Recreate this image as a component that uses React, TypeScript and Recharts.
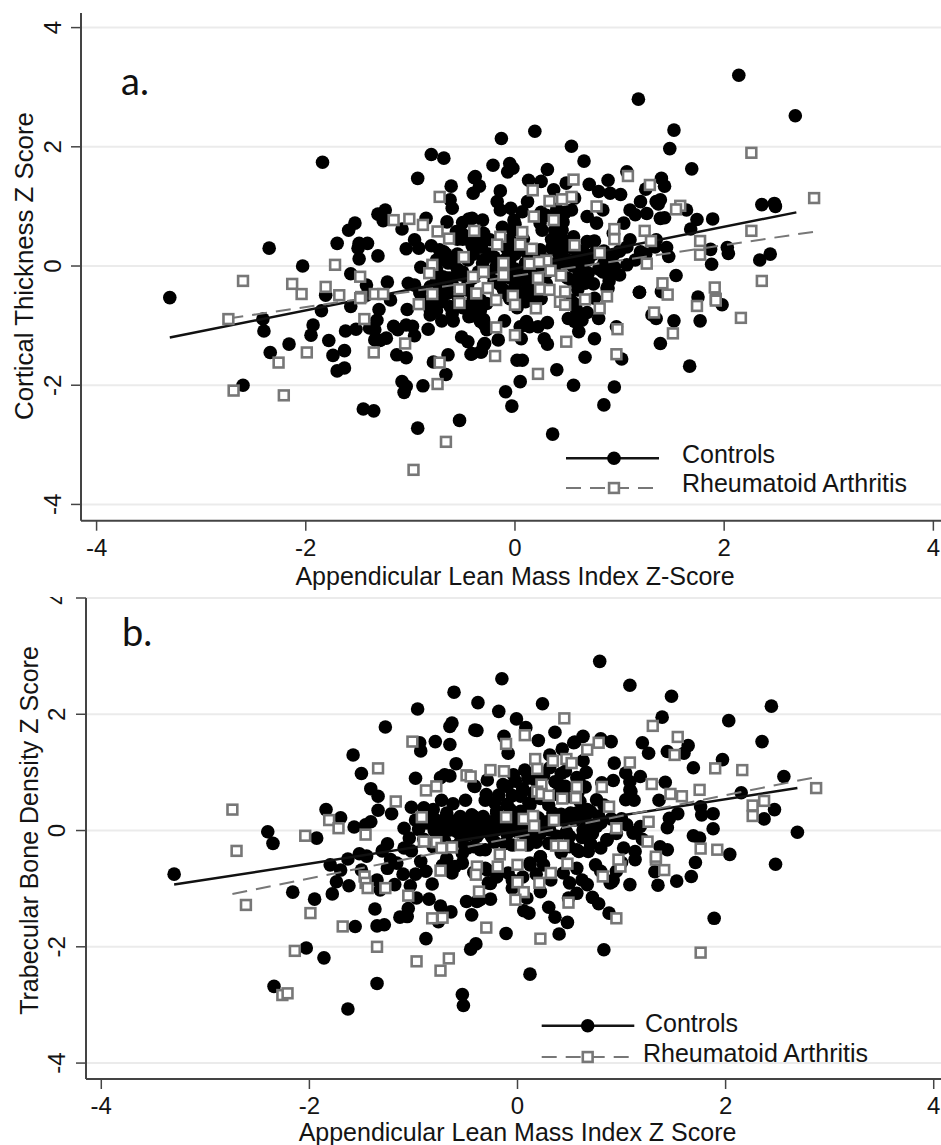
import React from "react";
import { ScatterChart, Scatter, XAxis, YAxis, CartesianGrid, Legend } from "recharts";

type Pair = [number, number];

const axisTicks = [-4, -2, 0, 2, 4];
const seriesNames = ["Controls", "Rheumatoid Arthritis"];
const titleA = { x: "Appendicular Lean Mass Index Z-Score", y: "Cortical Thickness Z Score", tag: "a." };
const titleB = { x: "Appendicular Lean Mass Index Z Score", y: "Trabecular Bone Density Z Score", tag: "b." };

const controlsA: Pair[] = [
[-1.84,1.74],[-.80,1.87],[-.68,1.81],[-.93,1.47],[-.39,1.48],[-.61,1.34],[-.40,1.22],[-.62,1.11],[-.60,.97],[-1.24,.94],[-1.31,.87],[-1.26,.76],[-1.53,.72],[-1.59,.60],[-1.08,.62],[-.85,.80],[-.65,.74],[-.50,.73],[-.44,.79],[-.51,.55],[-.55,.45],[-1.70,.38],[-1.49,.38],[-1.41,.38],[-1.50,.30],[-.96,.44],[-1.04,.29],[-.92,.30],[-.80,.34],[-.72,.27],[-1.49,.12],[-1.31,.17],[-2.35,.30],[-2.03,0],[-.66,.2],[-.64,.05],[-.90,-.02],[-1.57,-.13],[-1.42,-.32],[-1.22,-.27],[-1.02,-.29],[-.96,-.32],[-.69,-.18],[-.62,-.2],[-.51,-.15],[-.81,-.35],[-1.81,-.49],[-.66,-.42],[-3.30,-.53],
[-1.19,-.57],[-2.41,-.89],[-2.40,-1.09],[-1.85,-.75],[-1.93,-.99],[-1.95,-1.16],[-2.16,-1.31],[-1.78,-1.25],[-2.34,-1.45],[-1.63,-1.42],[-1.74,-1.50],[-1.63,-1.71],[-1.70,-1.76],[-2.60,-2.00],[-1.57,-.68],[-1.62,-1.09],[-1.52,-1.06],[-1.30,-.73],[-1.32,-.91],[-1.34,-1.07],[-1.39,-1.04],[-1.34,-1.24],[-1.23,-1.21],[-1.29,-1.25],[-1.16,-1.01],[-1.12,-1.07],[-1.04,-.99],[-.98,-1.01],[-.96,-1.17],[-.83,-1.06],[-1.03,-.73],[-1.13,-1.49],[-1.04,-1.54],[-.78,-1.61],[-.64,-1.49],[-.66,-1.82],[-1.08,-1.94],[-1.04,-2.02],[-1.06,-2.12],[-.88,-2.01],[-1.45,-2.40],[-1.35,-2.43],[-.93,-2.72],[-.53,-2.59],
[-.81,-.82],[-.70,-.92],[-.59,-.92],[-.44,-.85],[-.51,-1.19],[-.45,-1.27],[-.42,-1.48],[-.33,-1.44],[-.33,-.93],
[.36,-2.82],[.85,-2.33],[.95,-2.03],[.56,-2.0],[.40,-1.74],[.05,-1.94],[-.09,-2.11],[-.03,-2.35],[.02,-1.58],[.07,-1.58],[.67,-1.53],[1.02,-1.56],[1.39,-1.30],[1.67,-1.68],[.76,-1.22],[.31,-1.31],[.28,-1.22],[.06,-1.22],[-.16,-1.24],[-.29,-1.30],[-.32,-1.44],[-.41,-1.47],[.31,-.95],[.22,-1.02],[.14,-1.02],[.11,-.93],[.05,-1.02],[-.10,-.92],[-.29,-.99],[-.30,-.90],[-.42,-.84],[-.37,-.71],[.69,-.78],[.80,-.88],[.61,-1.10],[.51,-.88],[.57,-.93],[.64,-.91],[.56,-.62],[.76,-.54],[.89,-.37],[1.19,-.44],[1.40,-.43],[1.75,-.52],[1.98,-.65],[1.31,-.82],[1.35,-.88],[1.52,-.92],[1.77,-.92],[.97,-1.02],
[2.14,3.20],[2.68,2.52],[1.18,2.80],[1.52,2.28],[1.48,1.97],[1.69,1.63],[-.13,2.14],[.19,2.26],[.54,2.01],[.66,1.76],[-.21,1.69],[-.05,1.72],[-.02,1.64],[-.07,1.58],[.31,1.62],[-.38,1.50],[-.34,1.34],[.13,1.44],[.25,1.42],[.37,1.28],[.49,1.39],[-.14,1.26],[-.17,1.08],[-.14,.94],[-.04,.97],[.12,1.08],[.07,.91],[-.01,.77],[-.31,.77],[-.41,.80],[.71,1.37],[.89,1.44],[.80,1.25],[.91,1.22],[1.01,1.20],[.57,1.14],[.54,.94],[.84,.94],[.69,.83],[.78,.72],[.46,.74],[.24,.72],[1.10,.94],[1.20,1.08],[1.26,.88],[1.15,.86],[1.07,1.58],[1.40,1.47],[1.43,1.34],[1.25,1.29],[1.39,1.11],[1.37,1.04],[1.43,.81],[1.64,.94],[1.74,.78],[1.89,.79],[1.68,.62],[2.36,1.03],[2.48,1.05],[2.49,1.0],[2.03,.31],[2.04,.21],[1.87,.28],[1.88,.03],[2.44,.20],[2.34,.10],[1.54,-.16],[1.47,.16],[1.45,.31],[1.35,.44],[1.20,.24],[1.07,.02],[.94,.18],[1.04,.72],[1.10,.44],[.90,-.15],[.84,-.10],[.70,-.12],[.67,-.29],[.61,-.15],[.88,-.37],[1.19,-.44],
[.41,.55],[.56,.49],[.69,.41],[.76,.42],[.37,.38],[.46,.35],[.43,.16],[.59,.27],[.48,.05],[.24,.27],[.10,.05],[-.18,-.01],[-.05,.44],[-.06,.21],[-.24,.44],[-.32,.32],[-.40,.32],[-.31,.05],[.26,.60],[.10,-.23],[.12,-.37],[-.11,-.40],
[-.65,-.2],[-.27,-.63],[-.33,-.74],[.11,-.51],[-.08,-.46],[.05,-.23],[.30,-.12],[.62,-.23],[.88,-.12],[.53,-.57],[.59,-.74],[-.30,-.96],[-.27,-1.07],[-.30,-1.33],
[-.68,.24],[-.56,.58],[-.41,.35],[-.33,.32],[.75,.41],[-.08,.30],[-.05,.10],[.11,.05],[1.35,1.08],[1.39,.80],[1.07,.32],[1.34,.32],[.94,.55],
[-.78,-.57],[-.65,-.46],[-.81,-.74],[-.46,-.68],[-.33,-.57],[-.46,-.40],[-.62,-.68],[-.91,-.45],[-1.42,-.49],
[-.25,-.1],[-.2,-.25],[-.15,-.3],[-.1,-.1],[0,-.05],[.05,-.1],[.15,-.1],[.2,-.3],[.3,-.3],[.35,-.05],[.42,-.02],[.5,-.2],[.55,0],[.4,.25],[.5,.1],[.3,.1],[.2,.15],[.35,.45],[.45,.6],[.5,.4],[.38,.6],[.45,.2],[-.1,.1],[-.2,.15],[-.3,.1],[-.4,-.2],[-.35,-.1],[-.45,.1],[-.5,-.1],[-.55,.2],[-.6,.05],
[-.75,-.25],[-.7,-.4],[-.6,-.3],[-.55,-.5],[-.5,-.7],[-.7,-.6],[-.75,-.75],[-.6,-.8],[-.4,-.55],[-.45,-.3],[-.55,-.05],[-.75,-.05],[-.35,-.8],[-.85,-.6],
[-.05,-.2],[0,-.35],[.05,-.45],[.15,-.25],[.2,-.45],[.1,-.6],[.2,-.6],[.02,-.7],[.15,0],[.25,-.05],[-.05,-.55],[.25,-.55],
[.55,-.25],[.65,-.05],[.7,.1],[.8,-.05],[.85,.05],[.95,-.02],[.9,-.25],[.75,-.3],[.6,-.4],[.75,.2],[.65,.25],[.85,.25],[1.0,.25],[1.15,.1],[1.25,.2],[1.0,-.15],
[.4,.4],[.45,.45],[.55,.3],[.6,.15],[.65,.05],[.35,.3],[.4,.05],[-.5,.45],[-.45,.5],[-.4,.2],[-.35,.45],[-.25,.2],[-.3,.55],
[-.02,.6],[.02,.35],[0,.2],[.08,.45],[.1,.25],[-.12,.65],[0,.7],[.3,.85],[.4,.95],[.48,.9],[.25,.9],[-.72,.12],[-.62,.12],[-.75,.1]
];

const patientsA: Pair[] = [
[-2.60,-.25],[-2.13,-.30],[-2.04,-.47],[-1.81,-.35],[-1.72,.02],[-1.68,-.49],[-1.48,-.18],[-1.47,-.52],[-1.34,-.47],[-1.26,-.47],[-1.16,.77],[-1.01,.79],[-.88,.69],[-.74,.58],[-.72,1.16],[-.63,.46],[-.39,.59],[-.49,.15],[-.79,.02],[-.82,-.12],[-.40,-.18],[-.79,-.47],[-.37,-.46],[-.53,-.39],
[-2.74,-.89],[-1.44,-.89],[-.53,-.62],[-.92,-.64],[-1.05,-1.30],[-1.99,-1.45],[-1.35,-1.45],[-2.26,-1.62],[-.72,-1.62],[-.74,-1.98],[-2.69,-2.09],[-2.21,-2.17],[-.66,-2.95],[-.97,-3.42],
[2.26,1.90],[2.86,1.14],[2.26,.59],[2.36,-.25],[1.77,.42],[1.77,.19],[1.58,1.01],[1.54,.95],[1.29,1.36],[1.08,1.51],[1.24,.59],[1.30,.42],[.95,.62],[.95,.45],[.81,.22],[1.26,.04],[1.41,-.29],[1.46,-.48],[1.91,-.36],[1.92,-.55],[.78,1.0],[.56,1.45],[.54,1.16],[.45,1.12],[.33,1.09],[.17,1.27],[.18,.83],[.37,.77],[.07,.57],[.05,.36],[-.14,.49],[-.17,.36],[.16,.29],[.57,.35],[.30,.09],[.14,.04],[.23,.07],[-.11,.05],[-.11,-.15],[-.30,-.10],[.22,-.20],[.34,-.08],[.44,-.16],[-.26,-.37],[-.18,-.57],[-.02,-.50],[.24,-.39],[.33,-.40],[.48,-.43],[.67,-.56],[.88,-.51],
[0,-.65],[.20,-.71],[.43,-.60],[.48,-.65],[.81,-.71],[-.18,-1.03],[0,-1.16],[.49,-1.27],[-.19,-1.51],[.22,-1.81],[.97,-1.48],[.98,-1.06],[1.33,-.78],[1.51,-1.13],[1.74,-.67],[1.92,-.58],[2.16,-.87],[-1.48,-.54]
];

const controlsB: Pair[] = [
[-.61,2.38],[-.38,2.20],[-.96,2.09],[-.63,1.85],[-.65,1.79],[-1.27,1.78],[-.41,1.73],[-.94,1.51],[-.93,1.37],[-.79,1.53],[-.65,1.48],[-1.58,1.30],[-.59,1.15],[-1.50,.98],[-.98,.90],[-.70,.96],[-.65,.94],[-.42,.77],[-1.41,.72],[-1.34,.59],[-.73,.52],[-.50,.52],[-.62,.46],[-1.02,.40],[-.90,.39],[-.81,.36],[-1.84,.36],[-1.34,.35],[-1.21,.29],[-1.70,.22],[-1.41,.15],[-1.46,.10],[-1.57,.06],[-1.09,.04],[-1.04,-.13],[-.42,.24],[-.65,.18],[-.74,.13],[-.65,.01],[-.84,.13],[-.49,.18],[-2.40,-.02],[-2.35,-.22],[-1.93,-.13],[-1.63,-.49],[-1.52,-.40],[-1.45,-.44],[-1.30,-.35],[-1.25,-.23],[-1.09,-.30],[-1.02,-.35],[-.93,-.53],[-1.22,-.50],[-1.16,-.56],[-.68,-.48],[-.53,-.56],[-.42,-.28],[-.81,-.28],[-.53,-.39],[-1.80,-.59],
[-3.30,-.75],[-1.70,-.68],[-1.74,-.88],[-1.62,-.95],[-1.78,-1.09],[-2.16,-1.06],[-1.95,-1.18],[-1.50,-.68],[-1.35,-.85],[-1.32,-1.02],[-1.18,-.93],[-.98,-.75],[-1.03,-.95],[-.82,-.92],[-.63,-.73],[-1.37,-1.35],[-1.56,-1.65],[-1.35,-1.64],[-1.28,-1.62],[-1.13,-1.49],[-1.06,-1.48],[-1.05,-1.34],[-.97,-1.16],[-.85,-1.18],[-.74,-1.30],[-.64,-1.40],[-.76,-1.57],[-.49,-1.22],[-.44,-1.45],[-.88,-1.86],[-.45,-2.04],[-.40,-1.95],[-2.03,-2.02],[-1.86,-2.19],[-1.35,-2.63],[-2.34,-2.68],[-1.63,-3.07],[-.53,-2.82],[-.52,-3.01],
[.12,-2.47],[.83,-2.05],[1.89,-1.51],[-.11,-1.77],[.40,-1.78],[.48,-1.58],[.36,-1.49],[.30,-1.32],[.06,-1.38],[.11,-1.42],[.88,-1.42],[.78,-1.26],[.72,-1.15],[.57,-1.08],[.49,-1.16],[.67,-.93],[1.08,-.93],[1.35,-.94],[1.53,-.87],[1.67,-.79],[1.32,-.71],[2.48,-.58],[1.71,-.55],[.75,-.59],[.57,-.65],[.92,-.85],[.89,-.90],[.22,-1.05],[.09,-1.16],[-.05,-.99],[-.26,-1.18],[-.26,-.91],[-.36,-1.19],[-.31,-.65],[-.09,-.73],[.12,-.59],[.25,-.59],[.44,-.73],
[-.39,-1.22],[-.36,-.33],[-.29,-.68],[-.28,-.90],[.12,-.56],[.22,-.45],[.59,-.36],[.68,-.36],[.86,-.16],[1.02,-.30],[.91,-.88],[1.11,-.04],[1.13,-.50],
[.79,2.91],[1.08,2.50],[1.48,2.31],[-.15,2.61],[-.18,2.05],[.24,2.18],[-.01,1.92],[.08,1.77],[2.44,2.14],[2.03,1.89],[1.39,1.95],[2.35,1.53],[.36,1.69],[.20,1.55],[-.13,1.62],[-.09,1.33],[.90,1.53],[.80,1.58],[.63,1.62],[.55,1.52],[.43,1.40],[.31,1.30],[1.20,1.51],[1.26,1.33],[1.64,1.46],[1.60,1.33],[1.44,1.36],[.93,1.16],[.63,1.20],[.66,1.0],[.07,1.04],[.31,1.08],[.46,1.02],[1.69,1.08],[1.97,1.22],[2.56,.93],[1.42,.83],[1.18,.93],[1.04,.99],[.92,.86],[1.08,.84],[.81,.82],[.59,.87],[.36,.84],[.46,.76],[-.04,.96],[-.29,.87],[-.41,.76],[-.10,.76],[-.18,.61],[-.31,.52],[.03,.59],[.11,.47],[.30,.44],[.60,.50],[.76,.53],[.83,.44],[1.09,.67],[1.04,.53],[1.12,.52],[1.36,.52],[2.15,.65],[1.76,.41],[1.77,.27],[1.88,.29],[1.54,.29],[1.46,.21],[1.44,.05],[1.88,.03],[1.69,-.09],[1.75,-.13],[2.04,-.41],[2.69,-.03],[2.47,.36],[2.37,.20],
[1.18,.07],[1.05,.10],[1.12,-.04],[.86,-.16],[.76,.07],[.63,.01],[.70,.33],[.57,.30],[.44,.18],[.31,.01],[-.07,.36],[-.20,.33],[-.33,.22],[-.14,.05],[.03,.07],[.20,.07],[-.39,-.10],[-.31,-.33],[-.12,-.22],[.12,-.10],[.30,-.22],[.57,-.33],[1.13,-.36],[1.37,-.28],[1.44,-.33],[.22,-.45],
[-.14,.79],[.03,.61],[.12,.44],[.38,.82],[.57,.91],[.67,.36],[.51,.30],[.34,.30],[.03,.33],[-.20,.30],[-.33,.24],[-.44,.27],[-.55,.24],[-.68,.30],[-.98,.18],[-.87,.13],[-.68,.10],[-.53,.04],[-.42,.07],[-.29,.04],[-.20,.01],[-.07,.05],[.12,.01],[.28,.05],[.47,-.02],[.70,.05],[.80,.13],[1.08,.70],[-.74,.91],[-.39,1.72],[.54,1.51],
[-.9,.25],[-.8,.2],[-.7,.2],[-.6,.15],[-.45,.15],[-.35,.15],[-.25,.15],[-.15,.15],[-.05,.2],[.08,.2],[.2,.22],[.28,.15],[.42,.28],[.55,.18],[.65,.2],[.78,.25],[.9,.2],[1.0,.2],
[-.95,.02],[-.8,0],[-.72,-.05],[-.58,-.02],[-.48,-.08],[-.35,-.03],[-.25,-.1],[-.1,-.06],[0,-.02],[.08,-.12],[.22,-.05],[.38,-.1],[.5,-.1],[.62,-.12],[.72,-.05],[.95,-.05],
[-.9,-.15],[-.7,-.18],[-.55,-.2],[-.48,-.3],[-.22,-.2],[-.05,-.25],[.1,-.25],[.18,-.2],[.42,-.38],[.5,-.28],[.7,-.22],[.8,-.3],[1.2,-.15],
[-.3,.62],[-.22,.48],[-.1,.45],[-.05,.6],[.05,.72],[.15,.65],[.22,.55],[.38,.62],[.48,.58],[.58,.65],[.65,.75],[.18,.85],[.1,.9],[-.02,.85],[.25,.95],[.42,.98],
[-.6,-.62],[-.42,-.72],[-.2,-.8],[-.05,-.85],[.05,-.8],[.18,-.75],[.32,-.85],[.5,-.9],[.62,-.85],[.8,-.7],[.95,-.7],[1.0,-.55],[-.72,-.6],[-.88,-.7],[-1.1,-.75],[-1.25,-.65]
];

const patientsB: Pair[] = [
[-2.74,.36],[-2.70,-.35],[-2.04,-.09],[-1.81,.18],[-1.72,.04],[-1.46,-.07],[-1.34,1.07],[-1.17,.50],[-1.01,1.53],[-.92,.23],[-.88,.69],[-.78,.76],[-.49,.95],[-.90,-.19],[-.78,-.20],[-.73,-.30],[-.63,-.29],[-.74,-.69],[-.39,-.62],
[-2.61,-1.28],[-1.99,-1.42],[-1.68,-1.65],[-2.14,-2.07],[-2.26,-2.83],[-2.21,-2.80],[-1.47,-.79],[-1.46,-.90],[-1.44,-.99],[-1.27,-.99],[-1.05,-1.12],[-.82,-1.51],[-.72,-1.50],[-1.35,-2.0],[-.97,-2.25],[-.74,-2.41],[-.66,-2.20],[-.40,-.76],[-.37,-1.05],
[-.19,-.62],[0,-.59],[.48,-.57],[.32,-.73],[.21,-.90],[0,-.89],[.06,-1.06],[-.02,-1.19],[.49,-1.24],[.82,-.79],[.99,-.62],[1.41,-.68],[1.33,-.50],[-.30,-1.67],[.22,-1.86],[.95,-1.51],[1.76,-2.10],
[.45,1.93],[1.30,1.80],[1.54,1.61],[.07,1.64],[-.11,1.49],[1.51,1.30],[.78,1.51],[.67,1.39],[1.08,1.17],[.17,1.23],[.34,1.20],[.47,1.23],[.52,1.16],[.19,1.06],[-.26,1.04],[-.13,1.02],[1.90,1.07],[2.16,1.04],[-.45,.93],[1.29,.80],[.81,.75],[.57,.75],[.23,.79],[.19,.67],[.23,.63],[.30,.60],[.43,.55],[.56,.56],[1.47,.63],[1.58,.59],[1.75,.70],[.88,.41],[2.26,.43],[2.37,.51],[2.26,.25],[2.87,.73],[-.11,.23],[.06,.20],[.15,.25],[.16,.08],[.35,.18],[1.26,.15],[.95,.04],[.03,-.25],[.37,-.26],[.44,-.26],[1.25,-.19],[1.76,-.31],[1.92,-.33],[1.33,-.45],[-.17,-.41],[.97,-.50]
];

const fitControlsA: Pair[] = [[-3.30,-1.20],[2.69,.90]];
const fitPatientsA: Pair[] = [[-2.74,-.88],[2.86,.575]];
const fitControlsB: Pair[] = [[-3.30,-.93],[2.69,.73]];
const fitPatientsB: Pair[] = [[-2.74,-1.09],[2.87,.92]];

const toPoints = (pairs: Pair[]) => pairs.map(([x, y]) => ({ x, y }));

const SANS = "'Liberation Sans', Arial, sans-serif";
const INK = "#141414";
const AXIS = "#444444";
const GREY = "#777777";

const Dot = (p: any) => <circle cx={p.cx} cy={p.cy} r={6.8} fill="#000" />;
const Box = (p: any) => (
  <rect x={p.cx - 4.9} y={p.cy - 4.9} width={9.8} height={9.8} fill="#fff" stroke={GREY} strokeWidth={2.6} />
);
const NoMark = () => null;

const Title = ({ px, py, vertical, text, fs }: any) => (
  <text
    x={px}
    y={py}
    transform={vertical ? `rotate(-90 ${px} ${py})` : undefined}
    textAnchor="middle"
    dominantBaseline="central"
    fontFamily={SANS}
    fontSize={fs}
    fill={INK}
  >
    {text}
  </text>
);

const makeXTick = (ty: number) => (p: any) => (
  <text x={p.x} y={ty} textAnchor="middle" dominantBaseline="central" fontFamily={SANS} fontSize={24} fill={INK}>
    {p.payload.value}
  </text>
);
const makeYTick = (tx: number) => (p: any) => (
  <text
    x={tx}
    y={p.y}
    transform={`rotate(-90 ${tx} ${p.y})`}
    textAnchor="middle"
    dominantBaseline="central"
    fontFamily={SANS}
    fontSize={24}
    fill={INK}
  >
    {p.payload.value}
  </text>
);

const makeLegend = (cfg: any) => () => (
  <svg width={cfg.w} height={cfg.h} style={{ display: "block" }}>
    <line x1={cfg.lx1} x2={cfg.lx2} y1={cfg.y1} y2={cfg.y1} stroke={INK} strokeWidth={2.5} />
    <circle cx={cfg.mx} cy={cfg.y1} r={6.8} fill="#000" />
    <line x1={cfg.lx1} x2={cfg.lx2} y1={cfg.y2} y2={cfg.y2} stroke={GREY} strokeWidth={2} strokeDasharray="15 9" />
    <rect x={cfg.mx - 4.9} y={cfg.y2 - 4.9} width={9.8} height={9.8} fill="#fff" stroke={GREY} strokeWidth={2.6} />
    <text x={cfg.t1x} y={cfg.t1y} dominantBaseline="central" fontFamily={SANS} fontSize={cfg.fs} fill={INK}>
      {seriesNames[0]}
    </text>
    <text x={cfg.t2x} y={cfg.t2y} dominantBaseline="central" fontFamily={SANS} fontSize={cfg.fs} fill={INK}>
      {seriesNames[1]}
    </text>
  </svg>
);

function Panel(props: any) {
  const { w, h, m, xd, yd, controls, patients, fitC, fitP, xTickY, yTickX, xt, yt, xTitle, yTitle, legend } = props;
  return (
    <ScatterChart width={w} height={h} margin={{ top: m.top, right: 0, bottom: 0, left: 0 }}>
      <CartesianGrid horizontal vertical={false} stroke="#ebebeb" strokeWidth={2} horizontalValues={axisTicks} />
      <XAxis
        type="number"
        dataKey="x"
        domain={xd}
        ticks={axisTicks}
        interval={0}
        allowDataOverflow
        height={m.bottom}
        tickSize={10}
        axisLine={{ stroke: AXIS, strokeWidth: 2 }}
        tickLine={{ stroke: AXIS, strokeWidth: 1.5 }}
        tick={makeXTick(xTickY)}
        label={<Title px={xt.x} py={xt.y} fs={xt.fs} text={xTitle} />}
      />
      <YAxis
        type="number"
        dataKey="y"
        domain={yd}
        ticks={axisTicks}
        interval={0}
        allowDataOverflow
        width={m.left}
        tickSize={10}
        axisLine={{ stroke: AXIS, strokeWidth: 2 }}
        tickLine={{ stroke: AXIS, strokeWidth: 1.5 }}
        tick={makeYTick(yTickX)}
        label={<Title px={yt.x} py={yt.y} fs={yt.fs} vertical text={yTitle} />}
      />
      <Legend
        layout="vertical"
        align="center"
        verticalAlign="middle"
        content={makeLegend(legend)}
        wrapperStyle={{ left: legend.left, top: legend.top, width: legend.w, height: legend.h, right: "auto", bottom: "auto" }}
      />
      <Scatter name={seriesNames[0]} data={toPoints(controls)} shape={Dot} isAnimationActive={false} />
      <Scatter
        data={toPoints(fitC)}
        shape={NoMark}
        line={{ stroke: "#111", strokeWidth: 2.5 }}
        legendType="none"
        isAnimationActive={false}
      />
      <Scatter
        data={toPoints(fitP)}
        shape={NoMark}
        line={{ stroke: GREY, strokeWidth: 2, strokeDasharray: "15 9" }}
        legendType="none"
        isAnimationActive={false}
      />
      <Scatter name={seriesNames[1]} data={toPoints(patients)} shape={Box} isAnimationActive={false} />
    </ScatterChart>
  );
}

const tagStyle: React.CSSProperties = {
  position: "absolute",
  fontFamily: "Lato, 'Open Sans', sans-serif",
  fontSize: 38,
  lineHeight: "38px",
  color: "#111",
};

export default function App() {
  return (
    <div style={{ position: "absolute", left: 0, top: 0, width: 941, height: 1145, background: "#fff", overflow: "hidden" }}>
      <div style={{ position: "absolute", left: 0, top: 0 }}>
        <Panel
          w={941}
          h={597}
          m={{ top: 13, bottom: 76.3, left: 81 }}
          xd={[-4.149, 4.073]}
          yd={[-4.273, 4.245]}
          controls={controlsA}
          patients={patientsA}
          fitC={fitControlsA}
          fitP={fitPatientsA}
          xTickY={547}
          yTickX={53}
          xt={{ x: 515, y: 576, fs: 25 }}
          yt={{ x: 24, y: 266, fs: 25.8 }}
          xTitle={titleA.x}
          yTitle={titleA.y}
          legend={{ left: 560, top: 440, w: 370, h: 60, lx1: 6, lx2: 99, mx: 54, y1: 18.3, y2: 48, t1x: 122, t1y: 13.5, t2x: 122, t2y: 43, fs: 25 }}
        />
      </div>
      <div style={{ position: "absolute", left: 0, top: 597 }}>
        <Panel
          w={941}
          h={548}
          m={{ top: 1, bottom: 66, left: 86 }}
          xd={[-4.147, 4.07]}
          yd={[-4.274, 4]}
          controls={controlsB}
          patients={patientsB}
          fitC={fitControlsB}
          fitP={fitPatientsB}
          xTickY={508}
          yTickX={57}
          xt={{ x: 517.5, y: 534.7, fs: 25 }}
          yt={{ x: 29, y: 233.5, fs: 25 }}
          xTitle={titleB.x}
          yTitle={titleB.y}
          legend={{ left: 535, top: 408, w: 370, h: 60, lx1: 6.7, lx2: 99.3, mx: 52.7, y1: 20.7, y2: 52, t1x: 110, t1y: 18, t2x: 108, t2y: 48, fs: 25 }}
        />
      </div>
      <div style={{ ...tagStyle, left: 121, top: 61 }}>{titleA.tag}</div>
      <div style={{ ...tagStyle, left: 122, top: 612 }}>{titleB.tag}</div>
    </div>
  );
}
